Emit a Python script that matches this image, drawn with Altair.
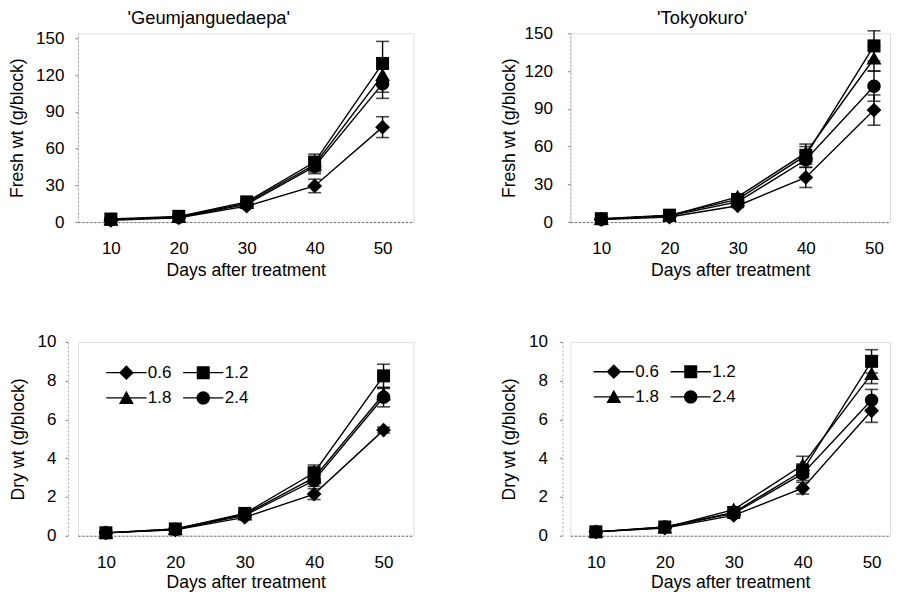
import altair as alt
import pandas as pd

# ---------------- data ----------------
days = [10, 20, 30, 40, 50]
rates = ["0.6", "1.2", "1.8", "2.4"]

fresh_geum = {
    "0.6": [1.5, 3.5, 13.0, 29.5, 77.5],
    "1.2": [2.5, 4.7, 16.5, 49.0, 129.5],
    "1.8": [2.0, 4.2, 15.5, 47.0, 120.0],
    "2.4": [2.0, 4.0, 14.5, 45.5, 113.0],
}
fresh_geum_err = {
    "0.6": [0.3, 0.5, 1.5, 5.5, 8.5],
    "1.2": [0.4, 0.6, 2.0, 6.5, 18.0],
    "1.8": [0.3, 0.5, 1.8, 6.0, 14.0],
    "2.4": [0.3, 0.5, 1.5, 6.0, 12.0],
}
fresh_tokyo = {
    "0.6": [2.0, 4.0, 13.0, 35.5, 89.0],
    "1.2": [2.7, 5.5, 18.0, 53.0, 140.0],
    "1.8": [2.5, 5.0, 20.0, 55.0, 130.0],
    "2.4": [2.2, 5.0, 16.0, 49.5, 108.0],
}
fresh_tokyo_err = {
    "0.6": [0.3, 0.5, 1.5, 8.0, 12.0],
    "1.2": [0.4, 0.6, 2.0, 7.0, 12.0],
    "1.8": [0.3, 0.6, 2.0, 7.0, 10.0],
    "2.4": [0.3, 0.5, 1.8, 6.0, 12.0],
}
dry_geum = {
    "0.6": [0.15, 0.30, 0.95, 2.15, 5.45],
    "1.2": [0.15, 0.35, 1.15, 3.25, 8.25],
    "1.8": [0.15, 0.35, 1.10, 3.00, 7.30],
    "2.4": [0.15, 0.32, 1.05, 2.85, 7.15],
}
dry_geum_err = {
    "0.6": [0.02, 0.03, 0.08, 0.28, 0.15],
    "1.2": [0.02, 0.04, 0.10, 0.40, 0.60],
    "1.8": [0.02, 0.03, 0.10, 0.30, 0.30],
    "2.4": [0.02, 0.03, 0.08, 0.30, 0.50],
}
dry_tokyo = {
    "0.6": [0.20, 0.40, 1.05, 2.45, 6.45],
    "1.2": [0.20, 0.45, 1.20, 3.35, 9.00],
    "1.8": [0.20, 0.42, 1.35, 3.65, 8.35],
    "2.4": [0.20, 0.45, 1.15, 3.20, 7.00],
}
dry_tokyo_err = {
    "0.6": [0.02, 0.04, 0.10, 0.30, 0.60],
    "1.2": [0.02, 0.04, 0.10, 0.35, 0.60],
    "1.8": [0.02, 0.04, 0.12, 0.45, 0.50],
    "2.4": [0.02, 0.04, 0.10, 0.35, 0.55],
}

fresh_ticks = [0, 30, 60, 90, 120, 150]
dry_ticks = [0, 2, 4, 6, 8, 10]

# ---------------- styling ----------------
FONT = "Liberation Sans"
FS = 17
FST = 17.6

P_DIAMOND = "M0,-1.05L1.05,0L0,1.05L-1.05,0Z"
P_SQUARE = "M-0.92,-0.92H0.92V0.92H-0.92Z"
P_TRIANGLE = "M0,-1L1.05,0.85H-1.05Z"
P_CIRCLE = "M0.95,0A0.95,0.95,0,1,1,-0.95,0A0.95,0.95,0,1,1,0.95,0Z"
STUB = "M-2.85,-0.1H2.85V0.1H-2.85Z"
MARKERS = [P_DIAMOND, P_SQUARE, P_TRIANGLE, P_CIRCLE]
LEGEND_MARKERS = [STUB + p for p in MARKERS]


def long_df(means, errs):
    rows = []
    for r in rates:
        for d, m, e in zip(days, means[r], errs[r]):
            rows.append({"day": d, "rate": r, "value": m, "lo": m - e, "hi": m + e})
    return pd.DataFrame(rows)


def panel(means, errs, ytitle, ydomain, yvalues, xdomain, width, height,
          label_pad, title_pad, title=None, title_offset=10, title_dx=0,
          legend_xy=None, xlabel_pad=18, xtitle_pad=5, y_offset=0):
    df = long_df(means, errs)
    xaxis = alt.Axis(values=days, title="Days after treatment", ticks=False,
                     labelPadding=xlabel_pad, titlePadding=xtitle_pad,
                     domainColor="#666", domainDash=[2, 2], grid=False,
                     labelFontSize=FS, titleFontSize=FST,
                     titleFontWeight="normal", labelFont=FONT, titleFont=FONT,
                     labelColor="black", titleColor="black")
    yaxis = alt.Axis(values=yvalues, grid=False, tickSize=3, tickColor="#888",
                     domainColor="#aaa", domainDash=[2, 2], offset=y_offset,
                     labelPadding=label_pad, titlePadding=title_pad,
                     labelFontSize=FS, titleFontSize=FST,
                     titleFontWeight="normal", labelFont=FONT, titleFont=FONT,
                     labelColor="black", titleColor="black")
    xenc = alt.X("day:Q", scale=alt.Scale(domain=xdomain, nice=False, zero=False),
                 axis=xaxis)

    def yenc(field):
        return alt.Y(f"{field}:Q", title=ytitle,
                     scale=alt.Scale(domain=ydomain, nice=False, zero=True),
                     axis=yaxis)

    base = alt.Chart(df)
    lines = base.mark_line(color="black", strokeWidth=1.4).encode(
        x=xenc, y=yenc("value"), detail="rate:N")
    bars = base.mark_rule(color="black", strokeWidth=1.4).encode(
        x=xenc, y=yenc("lo"), y2="hi:Q")
    cap_lo = base.mark_tick(color="black", orient="horizontal", size=13,
                            thickness=1.6).encode(x=xenc, y=yenc("lo"))
    cap_hi = base.mark_tick(color="black", orient="horizontal", size=13,
                            thickness=1.6).encode(x=xenc, y=yenc("hi"))
    pts = base.mark_point(filled=True, color="black", opacity=1, size=200,
                          strokeWidth=0).encode(
        x=xenc, y=yenc("value"),
        shape=alt.Shape("rate:N", scale=alt.Scale(domain=rates, range=MARKERS),
                        legend=None))
    layers = [lines, bars, cap_lo, cap_hi, pts]
    if legend_xy is not None:
        leg = base.transform_filter("false").mark_point(
            filled=True, color="black", opacity=1, size=200, strokeWidth=0
        ).encode(
            x=xenc, y=yenc("value"),
            shape=alt.Shape("rate:N",
                            scale=alt.Scale(domain=rates, range=LEGEND_MARKERS),
                            legend=alt.Legend(
                                orient="none", legendX=legend_xy[0],
                                legendY=legend_xy[1], columns=2,
                                direction="horizontal", title=None,
                                symbolSize=200, labelFontSize=FS,
                                labelFont=FONT, labelColor="black",
                                labelOffset=13, columnPadding=11,
                                rowPadding=7.5, symbolFillColor="black",
                                symbolStrokeWidth=0, symbolOpacity=1)))
        layers.append(leg)
    ch = alt.layer(*layers).properties(width=width, height=height)
    if legend_xy is not None:
        ch = ch.resolve_scale(shape="independent")
    if title is not None:
        ch = ch.properties(title=alt.TitleParams(
            text=title, fontSize=18.3, fontWeight="normal", font=FONT,
            color="black", anchor="middle", dx=title_dx, offset=title_offset))
    return ch


p1 = panel(fresh_geum, fresh_geum_err, "Fresh wt (g/block)", [0, 154.1],
           fresh_ticks, [5.15, 54.56], 336, 189, 11, 9,
           title="'Geumjanguedaepa'", title_offset=1, title_dx=-37)
p2 = panel(fresh_tokyo, fresh_tokyo_err, "Fresh wt (g/block)", [0, 150],
           fresh_ticks, [5.46, 52.35], 320, 189, 15, 5.6,
           title="'Tokyokuro'", title_offset=-4, title_dx=-28)
p3 = panel(dry_geum, dry_geum_err, "Dry wt (g/block)", [0, 10], dry_ticks,
           [5.97, 54.32], 336, 194, 9, 10, legend_xy=[40, 22], xtitle_pad=3,
           y_offset=10, xlabel_pad=19)
p4 = panel(dry_tokyo, dry_tokyo_err, "Dry wt (g/block)", [0, 10], dry_ticks,
           [6.3, 52.67], 320, 194, 12, 10, legend_xy=[35, 21], xtitle_pad=3,
           y_offset=8, xlabel_pad=19)

chart = alt.concat(p1, p2, p3, p4, columns=2, align="none",
                   spacing={"row": 52, "column": 85}, padding=0
                   ).configure_view(stroke=None).configure(font=FONT)

chart.save("out.html", embed_options={"renderer": "svg", "actions": False})
